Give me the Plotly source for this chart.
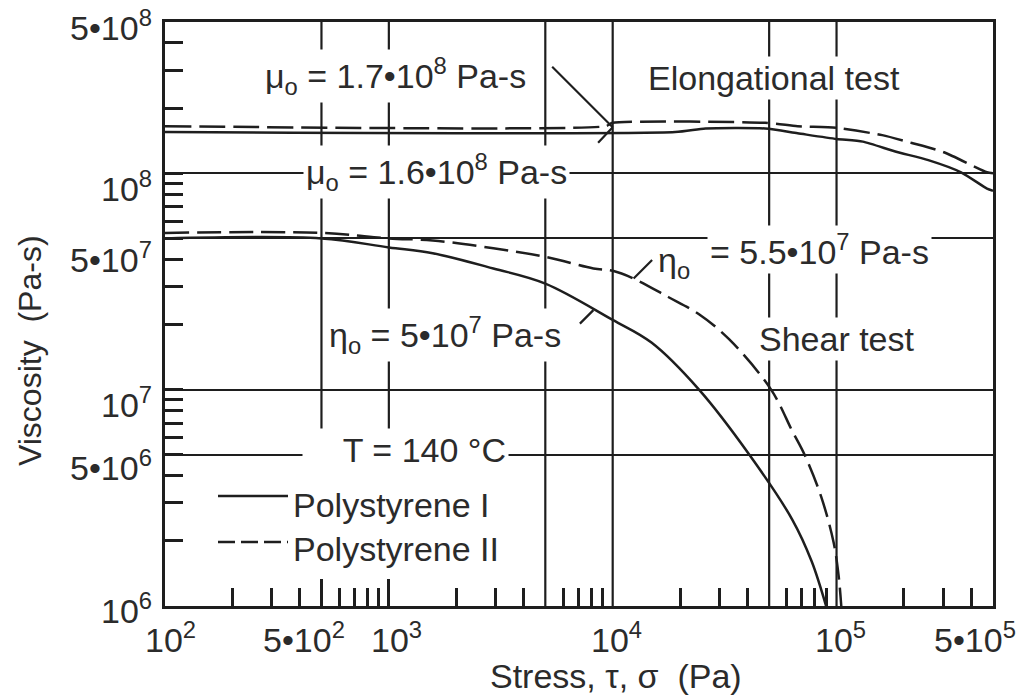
import numpy as np
import plotly.graph_objects as go

# ---------------- data (stress in Pa, viscosity in Pa-s) ----------------
elong_I_stress = [1e2, 1.9e4, 2.6e4, 4.8e4, 6.7e4, 1e5, 1.31e5, 1.83e5, 2.57e5, 3.6e5, 4.7e5, 5e5]
elong_I_visc = [1.55e8, 1.55e8, 1.61e8, 1.61e8, 1.53e8, 1.44e8, 1.40e8, 1.26e8, 1.15e8, 1.01e8, 8.5e7, 8.3e7]

elong_II_stress = [1e2, 9.3e3, 1e4, 4.8e4, 6.7e4, 1e5, 1.6e5, 2.17e5, 3.02e5, 4.7e5, 5e5]
elong_II_visc = [1.65e8, 1.65e8, 1.71e8, 1.71e8, 1.65e8, 1.62e8, 1.50e8, 1.38e8, 1.25e8, 1.01e8, 1.0e8]

shear_I_stress = [1e2, 5e2, 1e3, 1.57e3, 2.93e3, 5e3, 1e4, 1.49e4, 2.43e4,
                  4.08e4, 6.34e4, 7.74e4, 8.98e4]
shear_I_visc = [5.0e7, 5.0e7, 4.54e7, 4.27e7, 3.63e7, 3.09e7, 2.1e7, 1.65e7, 1.0e7,
                5.0e6, 2.51e6, 1.61e6, 1.0e6]

shear_II_stress = [1e2, 5e2, 1e3, 1.57e3, 2.93e3, 5e3, 8.2e3, 1e4, 1.24e4, 1.77e4, 2.43e4, 3.31e4,
                   5.1e4, 6.34e4, 7.2e4, 8.53e4, 9.7e4, 1.02e5, 1.05e5]
shear_II_visc = [5.3e7, 5.3e7, 5.0e7, 4.89e7, 4.5e7, 4.11e7, 3.63e7, 3.54e7, 3.26e7, 2.68e7, 2.23e7, 1.71e7,
                 1.0e7, 6.44e6, 5.0e6, 3.21e6, 1.97e6, 1.40e6, 1.0e6]

series_names = ["Polystyrene I", "Polystyrene II"]

X_TICK_VALUES = [1e2, 5e2, 1e3, 1e4, 1e5, 5e5]
X_TICK_LABELS = ["10<sup>2</sup>", "5•10<sup>2</sup>", "10<sup>3</sup>", "10<sup>4</sup>",
                 "10<sup>5</sup>", "5•10<sup>5</sup>"]
Y_TICK_VALUES = [1e6, 5e6, 1e7, 5e7, 1e8, 5e8]
Y_TICK_LABELS = ["10<sup>6</sup>", "5•10<sup>6</sup>", "10<sup>7</sup>", "5•10<sup>7</sup>",
                 "10<sup>8</sup>", "5•10<sup>8</sup>"]

X_GRID = [5e2, 1e3, 5e3, 1e4, 5e4, 1e5]
X_GRID_LOW = [6.4e6, 6.4e6, 1e6, 1e6, 1e6, 1e6]
Y_GRID = [5e6, 1e7, 5e7, 1e8]
X_MINOR = [2e2, 3e2, 4e2, 6e2, 7e2, 8e2, 9e2, 2e3, 3e3, 4e3, 6e3, 7e3, 8e3, 9e3,
           2e4, 3e4, 4e4, 6e4, 7e4, 8e4, 9e4, 2e5, 3e5, 4e5]
Y_MINOR = [2e6, 3e6, 4e6, 6e6, 7e6, 8e6, 9e6, 2e7, 3e7, 4e7, 6e7, 7e7, 8e7, 9e7, 2e8, 3e8, 4e8]

X_RANGE = [1e2, 5e5]
Y_RANGE = [1e6, 5e8]

# ---------------- style ----------------
W, H = 1027, 697
ML, MR, MT, MB = 165, 34, 22, 91
PW, PH = W - ML - MR, H - MT - MB
LINE = "#1e1e1e"
TXT = "#2b2b2b"
FONT = "Liberation Sans, Arial, Helvetica, sans-serif"
FS = 34


def px_x(px):
    return (px - ML) / PW


def px_y(py):
    return (H - MB - py) / PH


fig = go.Figure()

# grid lines (vertical) as traces
for gx, glow in zip(X_GRID, X_GRID_LOW):
    fig.add_trace(go.Scatter(x=[gx, gx], y=[glow, Y_RANGE[1]], mode="lines",
                             line=dict(color=LINE, width=2.2), hoverinfo="skip",
                             showlegend=False))

curves = [
    (elong_I_stress, elong_I_visc, "solid", series_names[0], 0.6),
    (elong_II_stress, elong_II_visc, "26px,8px", series_names[1], 0.6),
    (shear_I_stress, shear_I_visc, "solid", series_names[0], 1.0),
    (shear_II_stress, shear_II_visc, "24px,8px", series_names[1], 1.0),
]
for xs, ys, dash, name, sm in curves:
    fig.add_trace(go.Scatter(x=xs, y=ys, mode="lines", name=name,
                             line=dict(color=LINE, width=2.5, dash=dash,
                                       shape="spline", smoothing=sm),
                             hoverinfo="skip", showlegend=False))

annotations = []

# tick labels
X_TICK_SHIFT = [5, -17, 8, 4, 4, -18]
for v, t, s in zip(X_TICK_VALUES, X_TICK_LABELS, X_TICK_SHIFT):
    annotations.append(dict(x=np.log10(v), xref="x", y=px_y(637), yref="paper",
                            text=t, showarrow=False, xshift=s, xanchor="center",
                            yanchor="middle", borderpad=0,
                            font=dict(size=FS, color=TXT, family=FONT)))
Y_TICK_SHIFT = [-2, -11, -13, -19, -13, -3]
for v, t, s in zip(Y_TICK_VALUES, Y_TICK_LABELS, Y_TICK_SHIFT):
    annotations.append(dict(x=px_x(154), xref="paper", y=np.log10(v), yref="y",
                            text=t, showarrow=False, yshift=s, xanchor="right",
                            yanchor="middle", font=dict(size=FS, color=TXT, family=FONT)))

# axis titles
annotations.append(dict(x=px_x(616), y=px_y(676), xref="paper", yref="paper",
                        text="Stress, τ, σ\u00a0 (Pa)", showarrow=False,
                        xanchor="center", yanchor="middle", borderpad=0,
                        font=dict(size=FS, color=TXT, family=FONT)))
annotations.append(dict(x=px_x(30), y=px_y(351), xref="paper", yref="paper",
                        text="Viscosity\u00a0 (Pa-s)", showarrow=False, textangle=-90,
                        xanchor="center", yanchor="middle",
                        font=dict(size=32, color=TXT, family=FONT)))

# in-plot labels (white boxes interrupt the grid lines); left edge, centre y
labels = [
    ("μ<sub>o</sub> = 1.7•10<sup>8</sup> Pa-s", 262, 76, True, None),
    ("Elongational test", 645, 78, True, None),
    ("μ<sub>o</sub> = 1.6•10<sup>8</sup> Pa-s", 303, 172, True, None),
    ("η<sub>o</sub>", 655, 262, False, None),
    ("= 5.5•10<sup>7</sup> Pa-s", 707, 249, True, None),
    ("Shear test", 756, 339, True, None),
    ("η<sub>o</sub> = 5•10<sup>7</sup> Pa-s", 326, 335, True, None),
    ("T = 140 °C", 302, 450, True, 201),
]
for text, lx, cy, box, width in labels:
    a = dict(x=px_x(lx), y=px_y(cy), xref="paper", yref="paper", text=text,
             showarrow=False, xanchor="left", yanchor="middle",
             font=dict(size=FS, color=TXT, family=FONT), borderpad=2)
    if box:
        a["bgcolor"] = "white"
    if width:
        a["width"] = width
        a["align"] = "right"
    annotations.append(a)

# arrow / leader lines to the curves
leaders = [
    (1e4, 1.63e8, -62, -62),
    (1e4, 1.63e8, -16, 17),
    (1.24e4, 3.26e7, 20, -20),
    (8.2e3, 2.33e7, -15, 15),
]
for lx, ly, ax, ay in leaders:
    annotations.append(dict(x=np.log10(lx), y=np.log10(ly), xref="x", yref="y", text="",
                            showarrow=True, arrowhead=0, arrowwidth=2.2, arrowcolor=LINE,
                            ax=ax, ay=ay, standoff=0))

# custom legend
legend_rows = [(series_names[0], 496, 505, "solid"), (series_names[1], 542, 549, "17px,6px")]
shapes = []
for name, ly, ty, dash in legend_rows:
    shapes.append(dict(type="line", xref="paper", yref="paper", x0=px_x(218), x1=px_x(288),
                       y0=px_y(ly), y1=px_y(ly), line=dict(color=LINE, width=2.5, dash=dash)))
    annotations.append(dict(x=px_x(291), y=px_y(ty), xref="paper", yref="paper", text=name,
                            showarrow=False, xanchor="left", yanchor="middle",
                            font=dict(size=FS, color=TXT, family=FONT)))

fig.update_layout(
    width=W, height=H,
    margin=dict(l=ML, r=MR, t=MT, b=MB),
    paper_bgcolor="white", plot_bgcolor="white",
    showlegend=False,
    annotations=annotations,
    shapes=shapes,
    xaxis=dict(type="log", range=[np.log10(X_RANGE[0]), np.log10(X_RANGE[1])],
               showline=True, linecolor=LINE, linewidth=3, mirror=True,
               ticks="inside", tickmode="array", tickvals=[5e2, 1e3], ticklen=27,
               tickwidth=2.5, tickcolor=LINE, showticklabels=False, showgrid=False,
               zeroline=False,
               minor=dict(tickmode="array", tickvals=X_MINOR, ticks="inside", ticklen=18,
                          tickwidth=2.5, tickcolor=LINE, showgrid=False)),
    yaxis=dict(type="log", range=[np.log10(Y_RANGE[0]), np.log10(Y_RANGE[1])],
               showline=True, linecolor=LINE, linewidth=3, mirror=True,
               ticks="inside", tickmode="array", tickvals=Y_GRID, ticklen=18,
               tickwidth=2.5, tickcolor=LINE, showticklabels=False, showgrid=True,
               gridcolor=LINE, gridwidth=2.2, zeroline=False,
               minor=dict(tickmode="array", tickvals=Y_MINOR, ticks="inside", ticklen=18,
                          tickwidth=2.5, tickcolor=LINE, showgrid=False)),
)

fig.write_html("out.html")
